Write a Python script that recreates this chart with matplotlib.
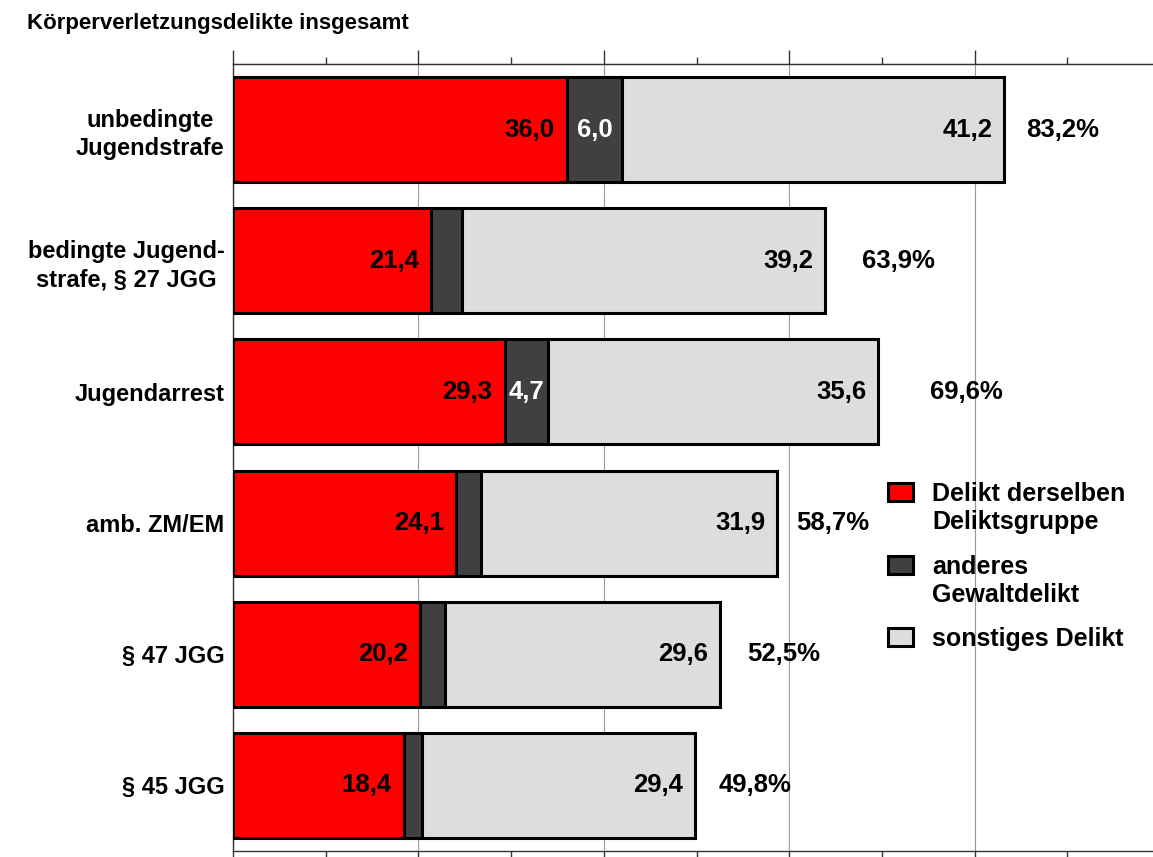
import matplotlib.pyplot as plt
from matplotlib.patches import Rectangle
from matplotlib.ticker import MultipleLocator

plt.rcParams['font.family'] = ['Liberation Sans', 'DejaVu Sans']
plt.rcParams['font.weight'] = 'bold'

# Rückfallraten nach Art der Sanktion (in %)
categories = ['unbedingte\nJugendstrafe', 'bedingte Jugend-\nstrafe, § 27 JGG',
              'Jugendarrest', 'amb. ZM/EM', '§ 47 JGG', '§ 45 JGG']
same_group = [36.0, 21.4, 29.3, 24.1, 20.2, 18.4]
other_violent = [6.0, 3.3, 4.7, 2.7, 2.7, 2.0]
other_offence = [41.2, 39.2, 35.6, 31.9, 29.6, 29.4]
totals = [83.2, 63.9, 69.6, 58.7, 52.5, 49.8]
violent_labelled = [True, False, True, False, False, False]

series_names = ['Delikt derselben\nDeliktsgruppe', 'anderes\nGewaltdelikt', 'sonstiges Delikt']
colors = ['#ff0000', '#404040', '#dddddd']

# gap between bar end and the total label, in axis units
pct_pad = [2.4, 3.9, 5.6, 2.1, 3.0, 2.6]

W, H = 1153, 857
fig = plt.figure(figsize=(W / 100, H / 100), dpi=100)
ax = fig.add_axes([233 / W, 6 / H, (1160 - 233) / W, 787 / H])

y = list(range(len(categories)))
left2 = [a + b for a, b in zip(same_group, other_violent)]
kw = dict(height=0.8, edgecolor='black', linewidth=2.2, zorder=3)
ax.barh(y, same_group, color=colors[0], **kw)
ax.barh(y, other_violent, left=same_group, color=colors[1], **kw)
ax.barh(y, other_offence, left=left2, color=colors[2], **kw)

fmt = lambda v: '{:.1f}'.format(v).replace('.', ',')
fs = 18.5
for i in y:
    ax.text(same_group[i] - 1.3, i, fmt(same_group[i]), ha='right', va='center',
            fontsize=fs, color='black', zorder=4)
    if violent_labelled[i]:
        ax.text(same_group[i] + other_violent[i] / 2, i, fmt(other_violent[i]),
                ha='center', va='center', fontsize=fs, color='white', zorder=4)
    end = left2[i] + other_offence[i]
    ax.text(end - 1.3, i, fmt(other_offence[i]), ha='right', va='center',
            fontsize=fs, color='black', zorder=4)
    ax.text(totals[i] + pct_pad[i], i, fmt(totals[i]) + '%', ha='left', va='center',
            fontsize=fs, color='black', zorder=4)

ax.set_xlim(0, 100)
ax.set_ylim(len(categories) - 0.5, -0.5)
ax.set_yticks(y)
ax.set_yticklabels(categories, fontsize=17, multialignment='center', linespacing=1.3)
ax.tick_params(axis='y', length=0, pad=6)

ax.xaxis.set_major_locator(MultipleLocator(20))
ax.xaxis.set_minor_locator(MultipleLocator(10))
ax.tick_params(axis='x', which='both', direction='out', length=6, width=1,
               color='#333333', labelbottom=False)
ax.grid(axis='x', which='major', color='#999999', linewidth=0.8, zorder=0)
ax.set_axisbelow(True)

top = ax.secondary_xaxis('top')
top.xaxis.set_major_locator(MultipleLocator(20))
top.xaxis.set_minor_locator(MultipleLocator(10))
top.tick_params(which='major', length=10, width=1, color='#333333', labeltop=False)
top.tick_params(which='minor', length=5, width=1, color='#333333')
top.spines['top'].set_color('#333333')

for s in ['left', 'bottom', 'top', 'right']:
    ax.spines[s].set_color('#333333')
    ax.spines[s].set_linewidth(1)

fig.text(27 / W, 1 - 23 / H, 'Körperverletzungsdelikte insgesamt', fontsize=16,
         ha='left', va='center')

# legend drawn by hand so the box sits next to the first text line
leg_tops = [483, 556, 628]
for name, col, ty in zip(series_names, colors, leg_tops):
    fig.patches.append(Rectangle((888 / W, 1 - (ty + 18) / H), 25 / W, 18 / H,
                                 transform=fig.transFigure, facecolor=col,
                                 edgecolor='black', linewidth=2.2))
    fig.text(932 / W, 1 - (ty - 1) / H, name, fontsize=18, ha='left', va='top',
             linespacing=1.2)

fig.savefig('out.png', dpi=100)
